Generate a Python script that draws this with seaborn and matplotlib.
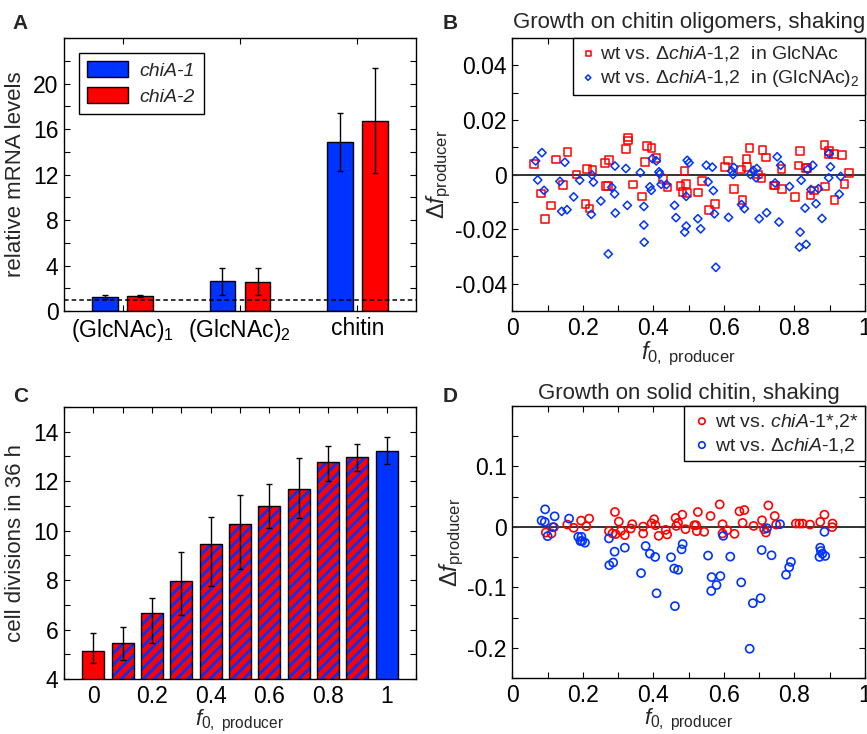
import matplotlib
matplotlib.use('Agg')
import matplotlib.pyplot as plt
import numpy as np
import pandas as pd
import seaborn as sns
from matplotlib.patches import Rectangle
from matplotlib.ticker import FixedLocator, MultipleLocator, FuncFormatter

RED = '#ff0000'
BLUE = '#0033ff'

# ---- panel A: relative mRNA levels
conditions = ['(GlcNAc)$_1$', '(GlcNAc)$_2$', 'chitin']
genes = ['chiA-1', 'chiA-2']
mrna_chiA1 = [1.2, 2.63, 14.87]
mrna_chiA2 = [1.35, 2.58, 16.73]
err_chiA1 = [0.17, 1.18, 2.52]
err_chiA2 = [0.1, 1.17, 4.62]

# ---- panel C: cell divisions vs initial producer fraction
f0_values = [0, 0.1, 0.2, 0.3, 0.4, 0.5, 0.6, 0.7, 0.8, 0.9, 1.0]
divisions = [5.15, 5.44, 6.65, 7.96, 9.44, 10.28, 11.01, 11.67, 12.76, 12.98, 13.22]
div_upper = [5.85, 6.1, 7.28, 9.12, 10.54, 11.44, 11.9, 12.92, 13.42, 13.49, 13.78]
div_lower = [4.66, 4.77, 5.44, 6.59, 7.77, 8.43, 10.1, 10.5, 12.0, 12.4, 12.68]

# ---- panel B: chitin oligomers
b_glc_f0 = [0.061, 0.081, 0.093, 0.110, 0.124, 0.144, 0.157, 0.182, 0.207, 0.212, 0.219, 0.227,
            0.263, 0.265, 0.271, 0.274, 0.323, 0.328, 0.328, 0.343, 0.368, 0.377, 0.382, 0.395,
            0.409, 0.428, 0.440, 0.477, 0.483, 0.488, 0.493, 0.495,
            0.527, 0.538, 0.558, 0.575, 0.603, 0.612, 0.628, 0.648, 0.653, 0.664, 0.665, 0.673,
            0.696, 0.706, 0.709, 0.719, 0.740, 0.745, 0.763, 0.764, 0.801, 0.811, 0.815, 0.833,
            0.837, 0.846, 0.856, 0.887, 0.885, 0.898, 0.896, 0.912, 0.914, 0.935, 0.942, 0.955]
b_glc_df = [0.0039, -0.0069, -0.0162, -0.0114, 0.0055, -0.0038, 0.0083, 0.0, -0.0109, 0.0021, -0.0125, 0.0017,
            0.0042, -0.0042, -0.0042, 0.0054, 0.0094, 0.0136, 0.0125, -0.0036, -0.008, 0.0045, 0.0104, 0.0097,
            0.0061, -0.0016, -0.0048, -0.0042, -0.0064, 0.0013, -0.0034, -0.0067,
            -0.0066, -0.0023, -0.0131, -0.0109, 0.0028, 0.0052, -0.0054, 0.0018, -0.0093, 0.0056, 0.0028, 0.0097,
            0.0, -0.0013, 0.009, 0.0063, -0.004, -0.004, 0.0021, -0.0053, -0.0083, 0.0033, 0.0086, 0.0023,
            0.0023, -0.0077, -0.0059, -0.0044, 0.0109, 0.0087, 0.0075, 0.0076, -0.0093, 0.0072, -0.0034, 0.0006]
b_glc2_f0 = [0.066, 0.084, 0.072, 0.090, 0.135, 0.140, 0.149, 0.155, 0.174, 0.191, 0.224, 0.226,
             0.230, 0.251, 0.272, 0.282, 0.290, 0.291, 0.292, 0.322, 0.326, 0.363, 0.373, 0.373,
             0.374, 0.390, 0.394, 0.397, 0.408, 0.416, 0.418, 0.422, 0.437, 0.460, 0.464, 0.489,
             0.493, 0.493, 0.496, 0.501,
             0.526, 0.534, 0.550, 0.555, 0.567, 0.570, 0.573, 0.577, 0.613, 0.622, 0.626, 0.628,
             0.650, 0.658, 0.675, 0.683, 0.691, 0.693, 0.700, 0.721, 0.745, 0.751, 0.756, 0.761,
             0.786, 0.816, 0.814, 0.819, 0.830, 0.833, 0.837, 0.847, 0.852, 0.861, 0.868, 0.878,
             0.897, 0.898, 0.902, 0.927, 0.931]
b_glc2_df = [0.005, 0.008, -0.002, -0.0058, -0.0025, -0.0135, 0.0045, -0.0129, -0.0082, -0.0021, -0.0146, -0.0002,
             -0.0028, -0.0097, -0.0291, -0.0047, -0.0071, 0.0031, -0.0141, 0.0022, -0.0113, 0.0007, -0.0117, -0.0185,
             -0.0248, -0.0045, -0.0058, 0.0058, 0.005, 0.001, 0.0002, -0.0036, -0.0037, -0.0113, -0.0158, -0.0211,
             -0.0189, -0.008, 0.0052, 0.0043,
             -0.0162, -0.0199, 0.0034, -0.0027, 0.0027, -0.0059, -0.0144, -0.034, -0.0157, 0.0013, 0.0, 0.0026,
             -0.011, -0.0125, 0.0, 0.0015, -0.0012, 0.0022, -0.0162, -0.014, -0.0031, 0.0065, -0.0174, 0.0034,
             -0.0044, -0.0211, -0.0266, -0.0021, -0.0123, -0.0256, 0.0018, -0.0055, 0.0034, -0.0107, -0.0052, -0.0161,
             -0.0012, 0.0077, 0.0028, -0.0072, -0.0007]

# ---- panel D: solid chitin
d_mut_f0 = [0.095, 0.111, 0.118, 0.156, 0.174, 0.195, 0.210, 0.218, 0.274, 0.284, 0.291, 0.293,
            0.302, 0.308, 0.319, 0.336, 0.340, 0.371, 0.371, 0.395, 0.402, 0.406, 0.415, 0.435,
            0.439, 0.463, 0.465, 0.470, 0.482, 0.491,
            0.516, 0.521, 0.523, 0.526, 0.544, 0.562, 0.588, 0.596, 0.596, 0.609, 0.630, 0.644,
            0.658, 0.653, 0.684, 0.708, 0.714, 0.719, 0.726, 0.744, 0.748, 0.804, 0.814, 0.823,
            0.844, 0.873, 0.885, 0.908, 0.907]
d_mut_df = [-0.0093, -0.011, -0.0005, 0.0038, -0.0016, 0.0104, 0.0011, 0.0137, -0.0071, -0.0109, 0.0246, -0.012,
            0.0087, -0.0066, -0.0137, -0.0027, 0.0044, 0.0005, -0.0109, 0.006, 0.0126, 0.0027, -0.0148, -0.0049,
            -0.0126, 0.0148, 0.0016, 0.0066, 0.0202, -0.0038,
            0.0027, 0.0027, -0.0071, 0.0246, -0.0082, 0.018, 0.0372, 0.0044, -0.0109, -0.0055, -0.0115, 0.0257,
            0.0279, 0.0066, 0.0016, 0.0109, -0.0038, -0.0093, 0.0355, 0.018, 0.0038, 0.0055, 0.0055, 0.0055,
            0.0038, 0.0082, 0.0202, 0.0055, -0.0005]
d_del_f0 = [0.083, 0.092, 0.093, 0.100, 0.115, 0.120, 0.161, 0.187, 0.196, 0.193, 0.198, 0.206,
            0.274, 0.275, 0.286, 0.290, 0.319, 0.365, 0.378, 0.390, 0.405, 0.409, 0.450, 0.461,
            0.459, 0.470, 0.480, 0.483,
            0.555, 0.565, 0.564, 0.579, 0.590, 0.598, 0.618, 0.649, 0.682, 0.673, 0.704, 0.707,
            0.722, 0.735, 0.759, 0.776, 0.785, 0.790, 0.873, 0.875, 0.871, 0.879, 0.887, 0.885]
d_del_df = [0.0104, 0.0082, 0.029, -0.0153, -0.0005, 0.0175, 0.0137, -0.0164, -0.0164, -0.0235, -0.0235, -0.0262,
            -0.0191, -0.0634, -0.059, -0.041, -0.0344, -0.0765, -0.0317, -0.0443, -0.0497, -0.1098, -0.0503, -0.1311,
            -0.0689, -0.071, -0.0372, -0.0284,
            -0.0475, -0.0831, -0.106, -0.0962, -0.0814, -0.0148, -0.0492, -0.0918, -0.1262, -0.2016, -0.118, -0.0383,
            -0.0022, -0.047, 0.0044, -0.0792, -0.0667, -0.0579, -0.0344, -0.0399, -0.0497, -0.0443, -0.0481, -0.0082]

sns.set_theme(style='white')
plt.rcParams['font.family'] = ['Liberation Sans', 'DejaVu Sans']
plt.rcParams['mathtext.fontset'] = 'custom'
plt.rcParams['mathtext.rm'] = 'Liberation Sans'
plt.rcParams['mathtext.it'] = 'Liberation Sans:italic'
plt.rcParams['mathtext.bf'] = 'Liberation Sans:bold'
plt.rcParams['axes.unicode_minus'] = False
plt.rcParams['legend.fancybox'] = False
plt.rcParams['legend.edgecolor'] = 'black'
plt.rcParams['legend.framealpha'] = 1
plt.rcParams['hatch.linewidth'] = 2.0

XLABEL = r'$f_{0,\ \mathrm{producer}}$'
YLABEL = r'$\Delta f_{\mathrm{producer}}$'
DELTA_CHIA = 'Δ$\\mathit{chiA}$-$\\mathit{1}$,$\\mathit{2}$'


def num_fmt(v, _):
    s = f'{round(v, 6):g}'
    return '0' if s == '-0' else s


def matlab_axes(ax):
    ax.tick_params(which='both', direction='in', top=True, right=True, bottom=True, left=True,
                   length=4, width=0.8, labelsize=16.5, pad=4, colors='black')
    for s in ax.spines.values():
        s.set_linewidth(1.0)
        s.set_color('black')
        s.set_visible(True)
    ax.grid(False)


fig = plt.figure(figsize=(8.67, 7.34), dpi=100)
axA = fig.add_axes([0.0738, 0.5763, 0.4060, 0.3719])
axB = fig.add_axes([0.5909, 0.5763, 0.4068, 0.3719])
axC = fig.add_axes([0.0738, 0.0749, 0.4060, 0.3706])
axD = fig.add_axes([0.5909, 0.0763, 0.4068, 0.3706])

# ---- A
dfA = pd.DataFrame({'condition': conditions * 2,
                    'gene': [genes[0]] * 3 + [genes[1]] * 3,
                    'level': mrna_chiA1 + mrna_chiA2})
sns.barplot(data=dfA, x='condition', y='level', hue='gene', palette=[BLUE, RED], saturation=1,
            width=0.6, gap=0.27, edgecolor='black', linewidth=1, errorbar=None, ax=axA)
for cont, err in zip(axA.containers, [err_chiA1, err_chiA2]):
    xs = [p.get_x() + p.get_width() / 2 for p in cont]
    hs = [p.get_height() for p in cont]
    axA.errorbar(xs, hs, yerr=err, fmt='none', ecolor='black', elinewidth=1, capsize=2.5, capthick=1)
axA.axhline(1, color='black', ls=(0, (3, 2)), lw=1.1, zorder=5)
handles, _ = axA.get_legend_handles_labels()
axA.legend(handles, genes, loc='upper left', prop={'style': 'italic', 'size': 14},
           handlelength=2.1, handleheight=0.9, borderaxespad=0.75, labelspacing=0.35,
           borderpad=0.45, handletextpad=0.6)
axA.set_xlim(-0.5, 2.5)
axA.set_ylim(0, 24)
axA.yaxis.set_major_locator(FixedLocator([0, 4, 8, 12, 16, 20]))
axA.yaxis.set_minor_locator(MultipleLocator(2))
axA.set_xlabel('')
axA.set_ylabel('relative mRNA levels', fontsize=16, labelpad=5)
matlab_axes(axA)

# ---- B
axB.axhline(0, color='#333333', lw=1.4, zorder=1)
sns.scatterplot(x=b_glc_f0, y=b_glc_df, marker='s', s=30, facecolor='none', edgecolor=RED,
                linewidth=1.1, ax=axB, label=f'wt vs. {DELTA_CHIA}  in GlcNAc', zorder=3)
sns.scatterplot(x=b_glc2_f0, y=b_glc2_df, marker='D', s=18, facecolor='none', edgecolor=BLUE,
                linewidth=1.1, ax=axB, label=f'wt vs. {DELTA_CHIA}  in (GlcNAc)$_2$', zorder=3)
axB.legend(loc='upper right', bbox_to_anchor=(1.0, 1.0), borderaxespad=0, fontsize=14,
           handletextpad=0.1, markerscale=0.65, borderpad=0.3, labelspacing=0.25, handlelength=1.0)
axB.set_xlim(0, 1)
axB.set_ylim(-0.05, 0.05)
axB.xaxis.set_major_locator(MultipleLocator(0.2))
axB.xaxis.set_minor_locator(MultipleLocator(0.1))
axB.yaxis.set_major_locator(MultipleLocator(0.02))
axB.yaxis.set_minor_locator(MultipleLocator(0.01))
axB.xaxis.set_major_formatter(FuncFormatter(num_fmt))
axB.yaxis.set_major_formatter(FuncFormatter(num_fmt))
axB.set_xlabel(XLABEL, fontsize=17, labelpad=0)
axB.set_ylabel(YLABEL, fontsize=17, labelpad=1)
axB.set_title('Growth on chitin oligomers, shaking', fontsize=16, pad=7)
matlab_axes(axB)

# ---- C
dfC = pd.DataFrame({'f0': f0_values, 'div': divisions})
sns.barplot(data=dfC, x='f0', y='div', native_scale=True, width=0.75, color=RED, saturation=1,
            linewidth=0, errorbar=None, ax=axC)
bars = list(axC.containers[0])
for i, p in enumerate(bars):
    if 0 < i < len(bars) - 1:
        p.set_hatch('///')
        p.set_edgecolor(BLUE)
        p.set_linewidth(0)
    elif i == len(bars) - 1:
        p.set_facecolor(BLUE)
    axC.add_patch(Rectangle(p.get_xy(), p.get_width(), p.get_height(), fill=False,
                            edgecolor='black', linewidth=1, zorder=p.get_zorder() + 0.1))
xs = [p.get_x() + p.get_width() / 2 for p in bars]
yerr = [np.array(divisions) - np.array(div_lower), np.array(div_upper) - np.array(divisions)]
axC.errorbar(xs, divisions, yerr=yerr, fmt='none', ecolor='black', elinewidth=1, capsize=2.5,
             capthick=1, zorder=4)
axC.set_xlim(-0.1, 1.1)
axC.set_ylim(4, 15)
axC.xaxis.set_major_locator(MultipleLocator(0.2))
axC.xaxis.set_minor_locator(MultipleLocator(0.1))
axC.yaxis.set_major_locator(FixedLocator([4, 6, 8, 10, 12, 14]))
axC.yaxis.set_minor_locator(MultipleLocator(1))
axC.xaxis.set_major_formatter(FuncFormatter(num_fmt))
axC.set_xlabel(XLABEL, fontsize=16, labelpad=0)
axC.set_ylabel('cell divisions in 36 h', fontsize=16, labelpad=5)
matlab_axes(axC)

# ---- D
axD.axhline(0, color='#333333', lw=1.4, zorder=1)
sns.scatterplot(x=d_mut_f0, y=d_mut_df, marker='o', s=34, facecolor='none', edgecolor=RED,
                linewidth=1.2, ax=axD, label='wt vs. $\\mathit{chiA}$-$\\mathit{1}$*,$\\mathit{2}$*', zorder=3)
sns.scatterplot(x=d_del_f0, y=d_del_df, marker='o', s=34, facecolor='none', edgecolor=BLUE,
                linewidth=1.2, ax=axD, label=f'wt vs. {DELTA_CHIA}', zorder=3)
axD.legend(loc='upper right', bbox_to_anchor=(1.0, 1.0), borderaxespad=0, fontsize=14,
           handletextpad=0.1, markerscale=0.8, borderpad=0.3, labelspacing=0.25, handlelength=1.2)
axD.set_xlim(0, 1)
axD.set_ylim(-0.25, 0.2)
axD.xaxis.set_major_locator(MultipleLocator(0.2))
axD.xaxis.set_minor_locator(MultipleLocator(0.1))
axD.yaxis.set_major_locator(FixedLocator([-0.2, -0.1, 0, 0.1]))
axD.yaxis.set_minor_locator(MultipleLocator(0.05))
axD.xaxis.set_major_formatter(FuncFormatter(num_fmt))
axD.yaxis.set_major_formatter(FuncFormatter(num_fmt))
axD.set_xlabel(XLABEL, fontsize=16, labelpad=0)
axD.set_ylabel(YLABEL, fontsize=17, labelpad=1)
axD.set_title('Growth on solid chitin, shaking', fontsize=16, pad=5)
matlab_axes(axD)

for letter, x, y in [('A', 0.0146, 0.960), ('B', 0.511, 0.961), ('C', 0.0150, 0.4527), ('D', 0.5106, 0.452)]:
    fig.text(x, y, letter, fontsize=15, fontweight='bold', va='baseline', ha='left')

fig.savefig('out.png', dpi=100)
